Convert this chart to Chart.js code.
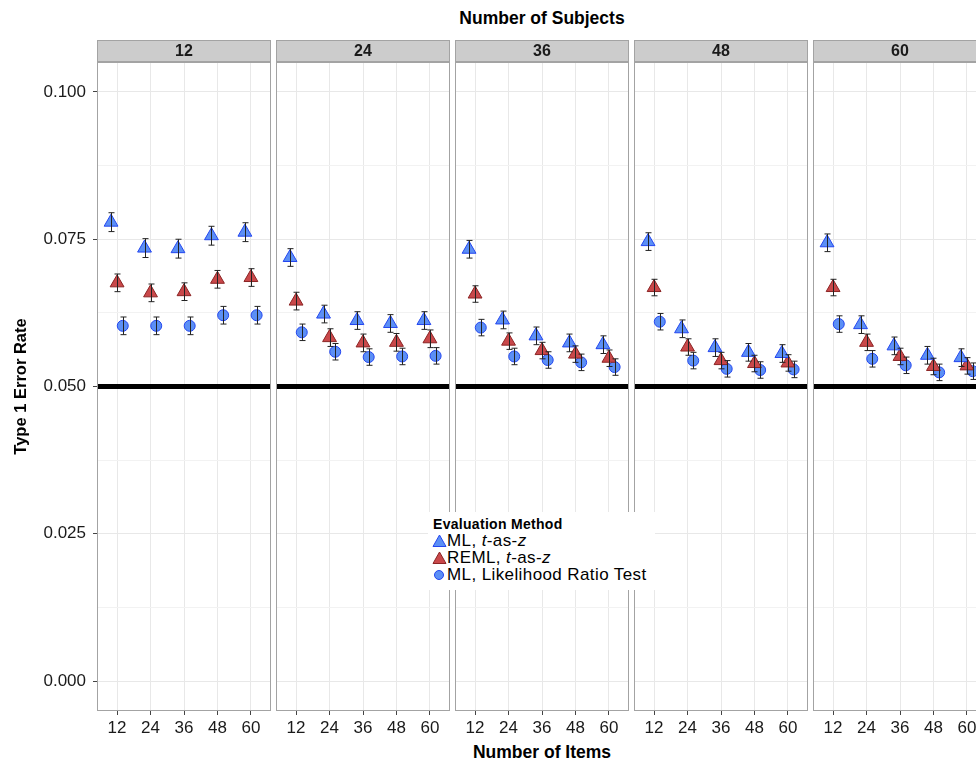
<!DOCTYPE html>
<html>
<head>
<meta charset="utf-8">
<script src="https://cdn.jsdelivr.net/npm/chart.js@4.4.1/dist/chart.umd.min.js"></script>
<style>
  html, body { margin: 0; padding: 0; overflow: hidden; background: #fff; }
  body { width: 976px; height: 762px; position: relative; font-family: "Liberation Sans", Arial, sans-serif; }
  canvas { position: absolute; top: 0; }
  .title { position: absolute; font-weight: bold; font-size: 17.5px; color: #000; white-space: nowrap; }
  #legend { position: absolute; left: 428px; top: 512px; width: 227px; height: 78px; background: #fff; }
  #legend .head { position: absolute; left: 5px; top: 4px; font-weight: bold; font-size: 14px; letter-spacing: 0.3px; }
  #legend .row { position: absolute; left: 4px; height: 17px; font-size: 17px; line-height: 17px; letter-spacing: 0.4px; white-space: nowrap; }
  #legend svg { position: absolute; left: 0; top: 2px; }
  #legend span { position: absolute; left: 15px; top: 0; }
</style>
</head>
<body>
<div class="title" style="left:0;width:1084px;text-align:center;top:8px">Number of Subjects</div>
<div class="title" style="left:0;width:1084px;text-align:center;top:742px">Number of Items</div>
<div id="legend">
  <div class="head">Evaluation Method</div>
  <div class="row" style="top:20px"><svg width="15" height="14"><polygon points="7.5,1 14,12.5 1,12.5" fill="#5b8ff5" stroke="#2446f0"/></svg><span>ML, <i>t</i>-as-<i>z</i></span></div>
  <div class="row" style="top:37px"><svg width="15" height="14"><polygon points="7.5,1 14,12.5 1,12.5" fill="#c9484a" stroke="#8b2424"/></svg><span>REML, <i>t</i>-as-<i>z</i></span></div>
  <div class="row" style="top:54px"><svg width="15" height="14"><circle cx="7" cy="7" r="4.5" fill="#5b8ff5" stroke="#2446f0"/></svg><span>ML, Likelihood Ratio Test</span></div>
</div>
<script>
// facets and x categories
const subjects = ['12', '24', '36', '48', '60'];
const items = ['12', '24', '36', '48', '60'];

// type 1 error rates, one row per number of subjects, one value per number of items
const mlTasZ = [
  [0.0779, 0.0735, 0.0734, 0.0756, 0.0762],
  [0.0719, 0.0623, 0.0612, 0.0607, 0.0612],
  [0.0733, 0.0613, 0.0586, 0.0574, 0.0571],
  [0.0746, 0.0598, 0.0566, 0.0558, 0.0556],
  [0.0744, 0.0605, 0.0569, 0.0553, 0.0549],
];
const remlTasZ = [
  [0.0676, 0.0659, 0.0661, 0.0682, 0.0685],
  [0.0645, 0.0583, 0.0574, 0.0575, 0.0581],
  [0.0657, 0.0577, 0.0561, 0.0555, 0.0548],
  [0.0668, 0.0567, 0.0544, 0.0539, 0.0540],
  [0.0668, 0.0575, 0.0551, 0.0534, 0.0535],
];
const mlLrt = [
  [0.0603, 0.0603, 0.0603, 0.0621, 0.0621],
  [0.0592, 0.0559, 0.0550, 0.0551, 0.0552],
  [0.0600, 0.0551, 0.0545, 0.0541, 0.0533],
  [0.0610, 0.0544, 0.0530, 0.0528, 0.0529],
  [0.0606, 0.0547, 0.0536, 0.0524, 0.0526],
];
// error bar half widths, one per facet
const mlTasZErr = [0.0016, 0.0015, 0.0015, 0.0015, 0.0015];
const remlTasZErr = [0.0015, 0.0015, 0.0014, 0.0014, 0.0014];
const mlLrtErr = [0.0015, 0.0014, 0.0014, 0.0014, 0.0014];

const yTicks = [0, 0.025, 0.05, 0.075, 0.1];
const yMinor = [0.0125, 0.0375, 0.0625, 0.0875];
const nominal = 0.05;

const FONT = '"Liberation Sans", Arial, sans-serif';
const BLUE = '#5b8ff5', BLUE_EDGE = '#2446f0';
const RED = '#c9484a', RED_EDGE = '#8b2424';

const series = [
  { label: 'ML, t-as-z', values: mlTasZ, err: mlTasZErr, dodge: -0.18, style: 'triangle', r: 8, fill: BLUE, edge: BLUE_EDGE },
  { label: 'REML, t-as-z', values: remlTasZ, err: remlTasZErr, dodge: 0, style: 'triangle', r: 8, fill: RED, edge: RED_EDGE },
  { label: 'ML, Likelihood Ratio Test', values: mlLrt, err: mlLrtErr, dodge: 0.17, style: 'circle', r: 5.5, fill: BLUE, edge: BLUE_EDGE },
];

const facetPlugin = {
  id: 'facet',
  beforeDraw(chart, args, opts) {
    const { ctx, chartArea: a } = chart;
    ctx.save();
    ctx.fillStyle = '#cccccc';
    ctx.fillRect(a.left, 40, a.right - a.left, 22);
    ctx.strokeStyle = '#a3a3a3';
    ctx.lineWidth = 1;
    ctx.strokeRect(a.left + 0.5, 40.5, a.right - a.left - 1, 21);
    ctx.fillStyle = '#1a1a1a';
    ctx.font = 'bold 16px ' + FONT;
    ctx.textAlign = 'center';
    ctx.textBaseline = 'middle';
    ctx.fillText(opts.label, (a.left + a.right) / 2, 52);
    ctx.restore();
  },
  beforeDatasetsDraw(chart) {
    const { ctx, chartArea: a } = chart;
    const y = chart.scales.y.getPixelForValue(nominal);
    ctx.save();
    ctx.fillStyle = '#000';
    ctx.fillRect(a.left, y - 2.5, a.right - a.left, 5);
    ctx.restore();
  },
  afterDatasetsDraw(chart) {
    const { ctx } = chart;
    const ys = chart.scales.y;
    ctx.save();
    ctx.strokeStyle = '#222';
    ctx.lineWidth = 1;
    chart.data.datasets.forEach((ds, di) => {
      chart.getDatasetMeta(di).data.forEach((pt, j) => {
        const v = ds.data[j].y;
        const x = Math.round(pt.x) + 0.5;
        const lo = ys.getPixelForValue(v - ds.errHalf);
        const hi = ys.getPixelForValue(v + ds.errHalf);
        ctx.beginPath();
        ctx.moveTo(x, lo); ctx.lineTo(x, hi);
        ctx.moveTo(x - 3, lo); ctx.lineTo(x + 3, lo);
        ctx.moveTo(x - 3, hi); ctx.lineTo(x + 3, hi);
        ctx.stroke();
      });
    });
    ctx.restore();
  },
  afterDraw(chart) {
    const { ctx, chartArea: a } = chart;
    ctx.save();
    ctx.strokeStyle = '#a3a3a3';
    ctx.lineWidth = 1;
    ctx.strokeRect(a.left + 0.5, a.top + 0.5, a.right - a.left - 1, a.bottom - a.top - 1);
    ctx.restore();
  },
};

subjects.forEach((subj, p) => {
  const first = p === 0;
  const panelLeft = 97 + p * 179;
  const canvas = document.createElement('canvas');
  const left = first ? 0 : panelLeft - 1;
  const width = first ? 272 : 176;
  canvas.width = width;
  canvas.height = 762;
  canvas.style.left = left + 'px';
  canvas.style.width = width + 'px';
  canvas.style.height = '762px';
  document.body.insertBefore(canvas, document.getElementById('legend'));

  const datasets = series.map(s => ({
    label: s.label,
    data: s.values[p].map((v, i) => ({ x: i + 1 + s.dodge, y: v })),
    errHalf: s.err[p],
    pointStyle: s.style,
    pointRadius: s.r,
    pointHoverRadius: s.r,
    pointBackgroundColor: s.fill,
    pointBorderColor: s.edge,
    pointBorderWidth: 1,
    showLine: false,
  }));

  new Chart(canvas, {
    type: 'scatter',
    data: { datasets },
    plugins: [facetPlugin],
    options: {
      responsive: false,
      animation: false,
      devicePixelRatio: 1,
      layout: { autoPadding: false, padding: { left: first ? 0 : 1, right: 1, top: 62, bottom: 0 } },
      plugins: {
        legend: { display: false },
        tooltip: { enabled: false },
        facet: { label: subj },
      },
      scales: {
        x: {
          type: 'linear',
          min: 0.4,
          max: 5.6,
          afterBuildTicks: axis => { axis.ticks = items.map((_, i) => ({ value: i + 1 })); },
          afterFit: axis => { axis.height = 51; },
          ticks: {
            callback: (v, i) => items[i],
            color: '#1a1a1a',
            font: { family: FONT, size: 17 },
            padding: 3,
            maxRotation: 0,
            autoSkip: false,
          },
          grid: { color: '#e8e8e8', lineWidth: 1, tickLength: 4, tickColor: '#444' },
          border: { display: false },
        },
        y: {
          type: 'linear',
          min: -0.00509,
          max: 0.10509,
          afterBuildTicks: axis => {
            axis.ticks = yTicks.concat(yMinor).sort((a, b) => a - b).map(v => ({ value: v }));
          },
          afterFit: axis => { axis.width = first ? 97 : 0; },
          ticks: {
            display: first,
            callback: v => (yTicks.includes(v) ? v.toFixed(3) : ''),
            color: '#1a1a1a',
            font: { family: FONT, size: 17 },
            padding: 7,
            autoSkip: false,
          },
          title: {
            display: first,
            text: 'Type 1 Error Rate',
            color: '#000',
            font: { family: FONT, size: 16.5, weight: 'bold' },
            padding: { top: 12, bottom: 0 },
          },
          grid: {
            color: ctx => (yTicks.includes(ctx.tick.value) ? '#e8e8e8' : '#f2f2f2'),
            lineWidth: 1,
            drawTicks: first,
            tickLength: 4,
            tickColor: ctx => (yTicks.includes(ctx.tick.value) ? '#444' : 'rgba(0,0,0,0)'),
          },
          border: { display: false },
        },
      },
    },
  });
});
</script>
</body>
</html>
